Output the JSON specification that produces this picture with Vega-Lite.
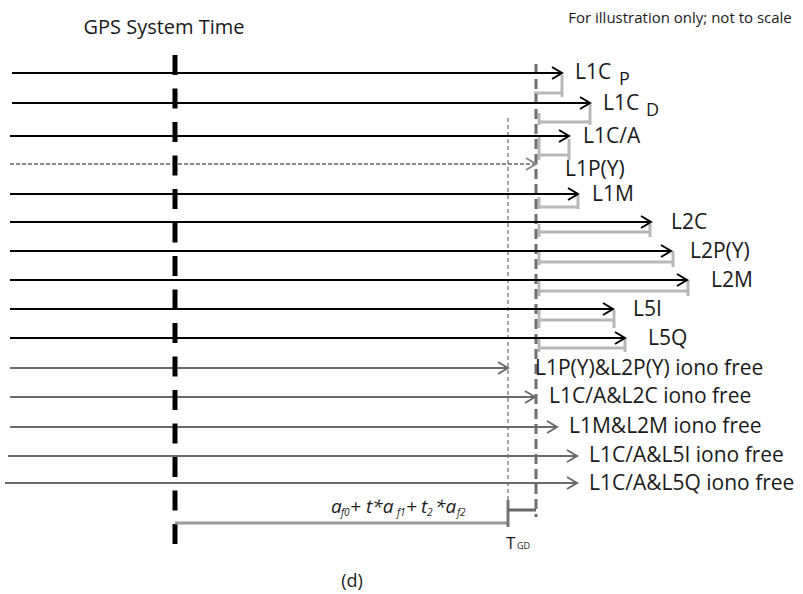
{
  "$schema": "https://vega.github.io/schema/vega-lite/v6.json",
  "width": 803,
  "height": 594,
  "padding": 0,
  "autosize": {"type": "none"},
  "background": "white",
  "config": {"view": {"stroke": null}, "text": {"font": "Open Sans", "fontSize": 21, "color": "#1a1a1a"}},
  "datasets": {
    "arrows": [
      {"sig": "L1C P", "x": 12, "x2": 562, "y": 73, "kind": "solid"},
      {"sig": "L1C D", "x": 12, "x2": 590, "y": 103, "kind": "solid"},
      {"sig": "L1C/A", "x": 10, "x2": 569, "y": 136, "kind": "solid"},
      {"sig": "L1P(Y)", "x": 10, "x2": 536, "y": 164, "kind": "dashed"},
      {"sig": "L1M", "x": 10, "x2": 578, "y": 194, "kind": "solid"},
      {"sig": "L2C", "x": 10, "x2": 651, "y": 222, "kind": "solid"},
      {"sig": "L2P(Y)", "x": 10, "x2": 671, "y": 251, "kind": "solid"},
      {"sig": "L2M", "x": 10, "x2": 687, "y": 280, "kind": "solid"},
      {"sig": "L5I", "x": 10, "x2": 613, "y": 309, "kind": "solid"},
      {"sig": "L5Q", "x": 10, "x2": 625, "y": 338, "kind": "solid"},
      {"sig": "L1P(Y)&L2P(Y)", "x": 10, "x2": 508, "y": 368, "kind": "iono"},
      {"sig": "L1C/A&L2C", "x": 10, "x2": 535, "y": 397, "kind": "iono"},
      {"sig": "L1M&L2M", "x": 10, "x2": 557, "y": 427, "kind": "iono"},
      {"sig": "L1C/A&L5I", "x": 8, "x2": 577, "y": 456, "kind": "iono"},
      {"sig": "L1C/A&L5Q", "x": 5, "x2": 577, "y": 483, "kind": "iono"}
    ],
    "bracketH": [
      {"x": 534, "x2": 562, "y": 93},
      {"x": 538, "x2": 590, "y": 122},
      {"x": 538, "x2": 569, "y": 155},
      {"x": 538, "x2": 578, "y": 207},
      {"x": 538, "x2": 650, "y": 232},
      {"x": 538, "x2": 673, "y": 262},
      {"x": 539, "x2": 688, "y": 291},
      {"x": 538, "x2": 614, "y": 320},
      {"x": 538, "x2": 625, "y": 348}
    ],
    "bracketV": [
      {"x": 562, "y": 75, "y2": 97},
      {"x": 590, "y": 104, "y2": 125},
      {"x": 539, "y": 113, "y2": 125},
      {"x": 569, "y": 139, "y2": 160},
      {"x": 539, "y": 137, "y2": 160},
      {"x": 578, "y": 195, "y2": 209},
      {"x": 539, "y": 197, "y2": 209},
      {"x": 650, "y": 224, "y2": 237},
      {"x": 539, "y": 224, "y2": 237},
      {"x": 673, "y": 251, "y2": 267},
      {"x": 539, "y": 251, "y2": 265},
      {"x": 688, "y": 280, "y2": 296},
      {"x": 539, "y": 280, "y2": 296},
      {"x": 614, "y": 310, "y2": 328},
      {"x": 539, "y": 310, "y2": 328},
      {"x": 625, "y": 338, "y2": 352},
      {"x": 539, "y": 338, "y2": 352}
    ],
    "labels": [
      {"text": "L1C", "x": 575, "y": 73},
      {"text": "L1C", "x": 603, "y": 104},
      {"text": "L1C/A", "x": 583, "y": 137},
      {"text": "L1P(Y)", "x": 565, "y": 170},
      {"text": "L1M", "x": 592, "y": 195},
      {"text": "L2C", "x": 671, "y": 223},
      {"text": "L2P(Y)", "x": 690, "y": 252},
      {"text": "L2M", "x": 711, "y": 281},
      {"text": "L5I", "x": 633, "y": 310},
      {"text": "L5Q", "x": 648, "y": 339},
      {"text": "L1P(Y)&L2P(Y) iono free", "x": 535, "y": 369},
      {"text": "L1C/A&L2C iono free", "x": 549, "y": 397},
      {"text": "L1M&L2M iono free", "x": 569, "y": 427},
      {"text": "L1C/A&L5I iono free", "x": 589, "y": 456},
      {"text": "L1C/A&L5Q iono free", "x": 589, "y": 484}
    ],
    "subLabels": [
      {"text": "P", "x": 619, "y": 80},
      {"text": "D", "x": 646, "y": 111}
    ],
    "bigTitles": [
      {"text": "GPS System Time", "x": 164, "y": 28}
    ],
    "smallTitles": [
      {"text": "For illustration only; not to scale", "x": 680, "y": 18}
    ],
    "caption": [
      {"text": "(d)", "x": 352, "y": 582}
    ],
    "gpsLine": [{"x": 175, "y": 55, "y2": 548}],
    "tgdLine": [{"x": 536, "y": 64, "y2": 517}],
    "thinLine": [{"x": 508, "y": 118, "y2": 510}],
    "clockH": [{"x": 175, "x2": 508, "y": 523}],
    "clockV": [{"x": 508, "y": 500, "y2": 527}],
    "tgdH": [{"x": 508, "x2": 536, "y": 510}],
    "formula": [
      {"text": "a", "x": 331, "y": 513},
      {"text": "+", "x": 350, "y": 513},
      {"text": "t*a", "x": 366, "y": 513},
      {"text": "+", "x": 406, "y": 513},
      {"text": "t", "x": 421, "y": 513},
      {"text": "*a", "x": 435, "y": 513}
    ],
    "formulaSub": [
      {"text": "f0", "x": 341, "y": 516},
      {"text": "f1", "x": 397, "y": 516},
      {"text": "2", "x": 427, "y": 516},
      {"text": "f2", "x": 457, "y": 516}
    ],
    "tgdText": [{"text": "T", "x": 506, "y": 549}],
    "tgdSub": [{"text": "GD", "x": 517, "y": 549}]
  },
  "encoding": {
    "x": {"field": "x", "type": "quantitative", "scale": {"domain": [0, 803], "nice": false, "zero": false}, "axis": null},
    "y": {"field": "y", "type": "quantitative", "scale": {"domain": [0, 594], "nice": false, "zero": false, "reverse": true}, "axis": null}
  },
  "layer": [
    {"data": {"name": "bracketH"}, "mark": {"type": "rule", "color": "#b8b8b8", "strokeWidth": 3}, "encoding": {"x2": {"field": "x2"}}},
    {"data": {"name": "bracketV"}, "mark": {"type": "rule", "color": "#b8b8b8", "strokeWidth": 3}, "encoding": {"y2": {"field": "y2"}}},
    {"data": {"name": "thinLine"}, "mark": {"type": "rule", "color": "#888888", "strokeWidth": 1.5, "strokeDash": [4, 3]}, "encoding": {"y2": {"field": "y2"}}},
    {"data": {"name": "tgdLine"}, "mark": {"type": "rule", "color": "#6e6e6e", "strokeWidth": 3, "strokeDash": [10, 5]}, "encoding": {"y2": {"field": "y2"}}},
    {"data": {"name": "arrows"}, "mark": {"type": "rule", "strokeWidth": 2},
      "encoding": {
        "x2": {"field": "x2"},
        "color": {"field": "kind", "type": "nominal", "scale": {"domain": ["solid", "dashed", "iono"], "range": ["#000000", "#8a8a8a", "#6b6b6b"]}, "legend": null},
        "strokeDash": {"field": "kind", "type": "nominal", "scale": {"domain": ["solid", "dashed", "iono"], "range": [[1, 0], [4, 2], [1, 0]]}, "legend": null}
      }},
    {"data": {"name": "arrows"}, "mark": {"type": "point", "shape": "M-1,-0.6L0,0L-1,0.6", "filled": false, "strokeWidth": 2, "size": 400, "opacity": 1},
      "encoding": {
        "x": {"field": "x2", "type": "quantitative"},
        "color": {"field": "kind", "type": "nominal", "scale": {"domain": ["solid", "dashed", "iono"], "range": ["#000000", "#8a8a8a", "#6b6b6b"]}, "legend": null}
      }},
    {"data": {"name": "gpsLine"}, "mark": {"type": "rule", "color": "#000000", "strokeWidth": 5, "strokeDash": [20, 13.5]}, "encoding": {"y2": {"field": "y2"}}},
    {"data": {"name": "clockH"}, "mark": {"type": "rule", "color": "#9a9a9a", "strokeWidth": 3}, "encoding": {"x2": {"field": "x2"}}},
    {"data": {"name": "clockV"}, "mark": {"type": "rule", "color": "#777777", "strokeWidth": 3}, "encoding": {"y2": {"field": "y2"}}},
    {"data": {"name": "tgdH"}, "mark": {"type": "rule", "color": "#666666", "strokeWidth": 3}, "encoding": {"x2": {"field": "x2"}}},
    {"data": {"name": "labels"}, "mark": {"type": "text", "align": "left", "baseline": "middle"}, "encoding": {"text": {"field": "text"}}},
    {"data": {"name": "subLabels"}, "mark": {"type": "text", "align": "left", "baseline": "middle", "fontSize": 18}, "encoding": {"text": {"field": "text"}}},
    {"data": {"name": "bigTitles"}, "mark": {"type": "text", "align": "center", "baseline": "middle", "fontSize": 20}, "encoding": {"text": {"field": "text"}}},
    {"data": {"name": "smallTitles"}, "mark": {"type": "text", "align": "center", "baseline": "middle", "fontSize": 15}, "encoding": {"text": {"field": "text"}}},
    {"data": {"name": "caption"}, "mark": {"type": "text", "align": "center", "baseline": "middle", "fontSize": 18}, "encoding": {"text": {"field": "text"}}},
    {"data": {"name": "formula"}, "mark": {"type": "text", "align": "left", "baseline": "alphabetic", "fontStyle": "italic", "fontSize": 19}, "encoding": {"text": {"field": "text"}}},
    {"data": {"name": "formulaSub"}, "mark": {"type": "text", "align": "left", "baseline": "alphabetic", "fontStyle": "italic", "fontSize": 10}, "encoding": {"text": {"field": "text"}}},
    {"data": {"name": "tgdText"}, "mark": {"type": "text", "align": "left", "baseline": "alphabetic", "fontSize": 17}, "encoding": {"text": {"field": "text"}}},
    {"data": {"name": "tgdSub"}, "mark": {"type": "text", "align": "left", "baseline": "alphabetic", "fontSize": 9}, "encoding": {"text": {"field": "text"}}}
  ]
}
